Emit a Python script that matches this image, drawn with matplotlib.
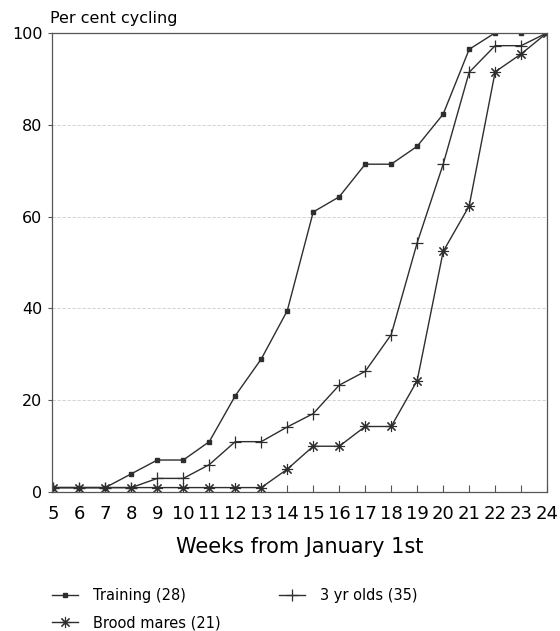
import matplotlib.pyplot as plt

plt.rcParams['font.family'] = ['DejaVu Sans']

# Data
weeks = list(range(5, 25))
training = [1, 1, 1, 4, 7, 7, 11, 21, 29, 39.5, 61, 64.3, 71.4, 71.4, 75.3, 82.3, 96.4, 100, 100, 100]
three_yr = [1, 1, 1, 1, 3, 3, 6, 11, 11, 14.2, 17.1, 23.3, 26.3, 34.3, 54.3, 71.4, 91.4, 97.2, 97.2, 100]
brood = [1, 1, 1, 1, 1, 1, 1, 1, 1, 5, 10, 10, 14.3, 14.3, 24.3, 52.4, 62.3, 91.5, 95.4, 100]

fig = plt.figure(figsize=(5.6, 6.31), dpi=100)
ax = fig.add_axes([0.093, 0.220, 0.884, 0.728])

lc = '#2e2e2e'
l1, = ax.plot(weeks, training, color=lc, lw=1, marker='s', ms=2.5)
l3, = ax.plot(weeks, three_yr, color=lc, lw=1, marker='+', ms=9, mew=0.9)
l2, = ax.plot(weeks, brood, color=lc, lw=1, marker=(8, 2, 0), ms=8, mew=0.8)

ax.set_xlim(4.95, 24)
ax.set_ylim(0, 100)
ax.set_xticks(weeks)
ax.set_yticks([0, 20, 40, 60, 80, 100])
ax.tick_params(axis='x', direction='in', length=5, labelsize=13, pad=9, color='#555555')
ax.tick_params(axis='y', direction='out', length=3, labelsize=11.5, pad=4, color='#555555')
for s in ax.spines.values():
    s.set_color('#555555')
    s.set_linewidth(0.9)
ax.grid(axis='y', color='#cccccc', lw=0.6, ls=(0, (4, 2)))

fig.text(0.089, 0.971, 'Per cent cycling', fontsize=11.5, ha='left', va='center')
ax.set_xlabel('Weeks from January 1st', fontsize=15, labelpad=10)

leg_kw = dict(loc='upper left', frameon=False, fontsize=10.5, handlelength=1.8,
              handletextpad=1.0, borderpad=0, borderaxespad=0, labelspacing=0.85)
fig.legend([l1, l2], ['Training (28)', 'Brood mares (21)'],
           bbox_to_anchor=(0.093, 0.068), **leg_kw)
fig.legend([l3], ['3 yr olds (35)'], bbox_to_anchor=(0.498, 0.068), **leg_kw)

fig.savefig('out.png', dpi=100)
